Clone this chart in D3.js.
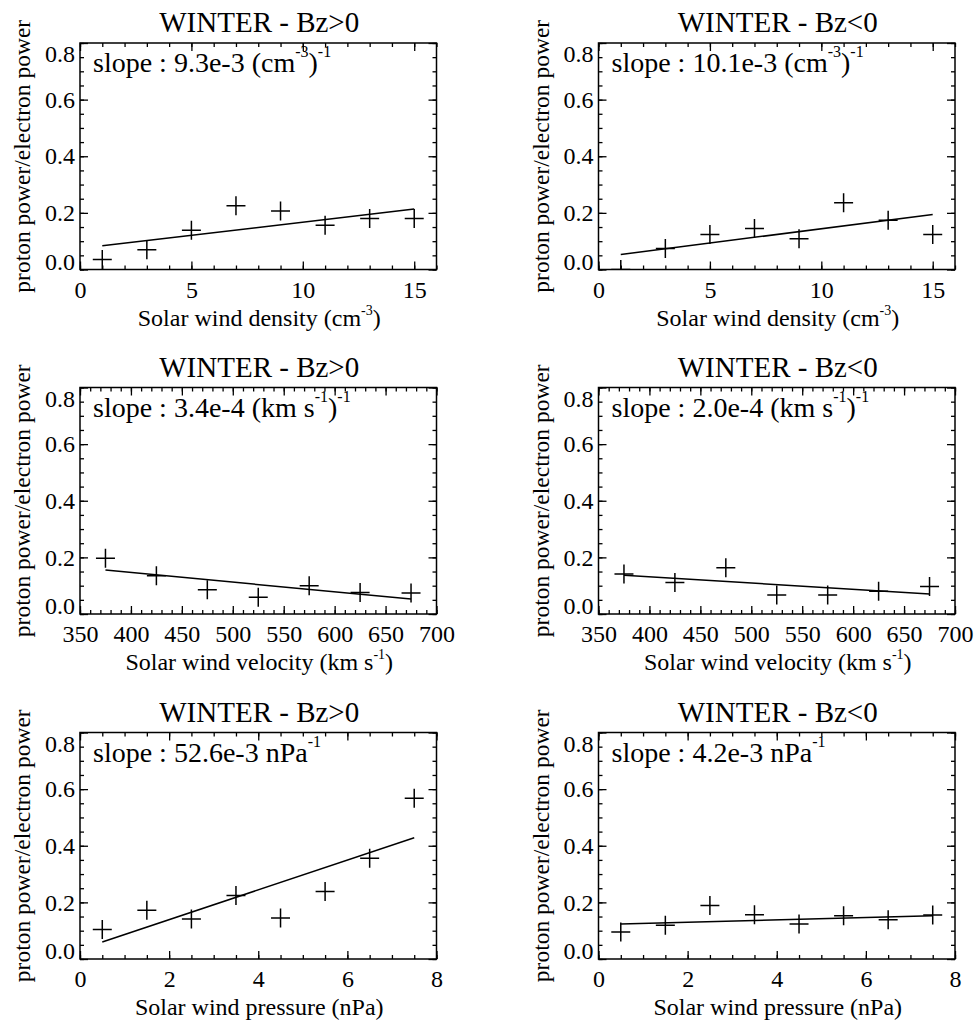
<!DOCTYPE html>
<meta charset="utf-8">
<style>
  body { margin: 0; background: #fff; }
  .frame { fill: none; stroke: #000; stroke-width: 1.5px; }
  .fit { fill: none; stroke: #000; stroke-width: 1.5px; }
  .pts path { fill: none; stroke: #000; stroke-width: 1.5px; }
  .axis line { stroke: #000; stroke-width: 1.3px; }
</style>
<body>
<svg width="975" height="1021" font-family="Liberation Serif"></svg>
<script src="https://d3js.org/d3.v7.min.js"></script>
<script>
  // values
  var densityX = [1, 3, 5, 7, 9, 11, 13, 15];
  var densityBzPos = [0.035, 0.07, 0.139, 0.225, 0.207, 0.156, 0.18, 0.18];
  var densityBzNeg = [0.0, 0.074, 0.124, 0.145, 0.109, 0.236, 0.174, 0.124];

  var velocityX = [375, 425, 475, 525, 575, 625, 675];
  var velocityBzPos = [0.197, 0.135, 0.086, 0.059, 0.1, 0.076, 0.074];
  var velocityBzNeg = [0.141, 0.111, 0.163, 0.067, 0.067, 0.08, 0.097];

  var pressureX = [0.5, 1.5, 2.5, 3.5, 4.5, 5.5, 6.5, 7.5];
  var pressureBzPos = [0.104, 0.172, 0.141, 0.224, 0.145, 0.238, 0.356, 0.568];
  var pressureBzNeg = [0.095, 0.119, 0.189, 0.156, 0.124, 0.153, 0.139, 0.155];

  // linear fits (slope, intercept), row by row, Bz>0 then Bz<0
  var fitSlope = [9.3e-3, 10.1e-3, -3.4e-4, -2.2e-4, 52.6e-3, 4.2e-3];
  var fitIntercept = [0.0742, 0.0429, 0.2825, 0.2195, 0.0337, 0.1214];

  var titles = ["WINTER - Bz>0", "WINTER - Bz<0"];
  var slopeLabels = [
    [["slope : 9.3e-3 (cm", 0], ["-3", 1], [")", 0], ["-1", 1]],
    [["slope : 10.1e-3 (cm", 0], ["-3", 1], [")", 0], ["-1", 1]],
    [["slope : 3.4e-4 (km s", 0], ["-1", 1], [")", 0], ["-1", 1]],
    [["slope : 2.0e-4 (km s", 0], ["-1", 1], [")", 0], ["-1", 1]],
    [["slope : 52.6e-3 nPa", 0], ["-1", 1]],
    [["slope : 4.2e-3 nPa", 0], ["-1", 1]]
  ];
  var xLabels = [
    [["Solar wind density (cm", 0], ["-3", 1], [")", 0]],
    [["Solar wind velocity (km s", 0], ["-1", 1], [")", 0]],
    [["Solar wind pressure (nPa)", 0]]
  ];
  var yLabel = "proton power/electron power";

  var xDomains = [[0, 16], [350, 700], [0, 8]];
  var xTicks = [[0, 5, 10, 15], [350, 400, 450, 500, 550, 600, 650, 700], [0, 2, 4, 6, 8]];
  var xMinorStep = [1, 10, 0.5];
  var yDomain = [0, 0.8];
  var yTicks = [0, 0.2, 0.4, 0.6, 0.8];
  var yMinorStep = 0.05;

  var svg = d3.select("svg");
  var colLeft = [80, 598.5], boxW = 356.5;
  var rowTop = [43, 387.5, 732.5], boxH = 226.5;

  var rows = [
    {x: densityX, ys: [densityBzPos, densityBzNeg]},
    {x: velocityX, ys: [velocityBzPos, velocityBzNeg]},
    {x: pressureX, ys: [pressureBzPos, pressureBzNeg]}
  ];

  function richText(sel, parts, supSize, rise) {
    parts.forEach(function(p, i) {
      var t = sel.append("tspan").text(p[0]);
      if (p[1]) t.attr("font-size", supSize).attr("dy", -rise);
      else if (i > 0 && parts[i - 1][1]) t.attr("dy", rise);
    });
  }

  function minorTicks(dom, step) {
    return d3.range(dom[0], dom[1] + step / 2, step);
  }

  rows.forEach(function(row, r) {
    row.ys.forEach(function(yVals, c) {
      var k = r * 2 + c;
      var left = colLeft[c], top = rowTop[r];
      var g = svg.append("g").attr("transform", "translate(" + left + "," + top + ")");

      var x = d3.scaleLinear().domain(xDomains[r]).range([0, boxW]);
      var y = d3.scaleLinear().domain(yDomain).range([boxH, 0]);

      var xMinor = minorTicks(xDomains[r], xMinorStep[r]);
      var yMinor = minorTicks(yDomain, yMinorStep);

      // minor ticks, all sides, pointing inwards
      g.append("g").attr("class", "axis").attr("transform", "translate(0," + boxH + ")")
        .call(d3.axisBottom(x).tickValues(xMinor).tickSize(-4).tickFormat(""));
      g.append("g").attr("class", "axis")
        .call(d3.axisTop(x).tickValues(xMinor).tickSize(-4).tickFormat(""));
      g.append("g").attr("class", "axis")
        .call(d3.axisLeft(y).tickValues(yMinor).tickSize(-4).tickFormat(""));
      g.append("g").attr("class", "axis").attr("transform", "translate(" + boxW + ",0)")
        .call(d3.axisRight(y).tickValues(yMinor).tickSize(-4).tickFormat(""));

      // major ticks
      g.append("g").attr("class", "axis").attr("transform", "translate(0," + boxH + ")")
        .call(d3.axisBottom(x).tickValues(xTicks[r]).tickSize(-8).tickPadding(11.4).tickFormat(d3.format("d")));
      g.append("g").attr("class", "axis")
        .call(d3.axisTop(x).tickValues(xTicks[r]).tickSize(-8).tickFormat(""));
      g.append("g").attr("class", "axis ylab")
        .call(d3.axisLeft(y).tickValues(yTicks).tickSize(-8).tickPadding(5).tickFormat(d3.format(".1f")));
      g.append("g").attr("class", "axis").attr("transform", "translate(" + boxW + ",0)")
        .call(d3.axisRight(y).tickValues(yTicks).tickSize(-8).tickFormat(""));

      g.selectAll(".axis .domain").remove();
      g.selectAll(".axis").attr("font-size", 24).attr("font-family", "Liberation Serif");
      // end labels sit inside the frame height
      g.select(".ylab").selectAll(".tick text")
        .attr("dy", function(d) { return d === 0 ? "-0.3px" : d === 0.8 ? "18.7px" : "7.7px"; });

      g.append("rect").attr("class", "frame").attr("width", boxW).attr("height", boxH);

      var clipId = "clip" + k;
      g.append("clipPath").attr("id", clipId)
        .append("rect").attr("width", boxW).attr("height", boxH);
      var inner = g.append("g").attr("clip-path", "url(#" + clipId + ")");

      var xs = row.x;
      var x0 = d3.min(xs), x1 = d3.max(xs);
      inner.append("line").attr("class", "fit")
        .attr("x1", x(x0)).attr("y1", y(fitIntercept[k] + fitSlope[k] * x0))
        .attr("x2", x(x1)).attr("y2", y(fitIntercept[k] + fitSlope[k] * x1));

      inner.append("g").attr("class", "pts")
        .selectAll("path")
        .data(xs.map(function(v, i) { return [v, yVals[i]]; }))
        .enter().append("path")
        .attr("d", "M-9.5,0H9.5M0,-9.5V9.5")
        .attr("transform", function(d) { return "translate(" + x(d[0]) + "," + y(d[1]) + ")"; });

      g.append("text")
        .attr("x", boxW / 2 + 1).attr("y", -11)
        .attr("text-anchor", "middle")
        .attr("font-size", 29)
        .text(titles[c]);

      richText(g.append("text").attr("x", 13).attr("y", 29).attr("font-size", 28),
        slopeLabels[k], 16, 15);

      richText(g.append("text")
        .attr("x", boxW / 2 + 1).attr("y", boxH + 56).attr("text-anchor", "middle")
        .attr("font-size", 24),
        xLabels[r], 14, 11);

      g.append("text")
        .attr("transform", "translate(-50," + (boxH / 2) + ") rotate(-90)")
        .attr("text-anchor", "middle")
        .attr("font-size", 23.5)
        .text(yLabel);
    });
  });

  svg.selectAll("text").attr("font-family", "Liberation Serif").attr("fill", "#000");
</script>
</body>
